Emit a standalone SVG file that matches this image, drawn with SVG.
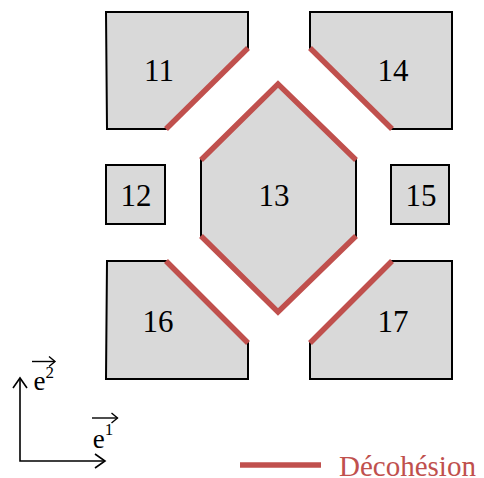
<svg xmlns="http://www.w3.org/2000/svg" width="484" height="478" viewBox="0 0 484 478">
<style>
.cell{fill:#d9d9d9;stroke:#000;stroke-width:2;stroke-linejoin:miter}
.dec{stroke:#c0504d;stroke-width:5.5;fill:none;stroke-linecap:butt}
.lbl{font-family:'Liberation Serif',serif;font-size:31px;fill:#000;text-anchor:middle}
.ax{stroke:#000;stroke-width:1.6;fill:none}
.vec{stroke:#000;stroke-width:1.4;fill:none}
.axl{font-family:'Liberation Serif',serif;fill:#000;font-size:27px}
.sup{font-size:17px}
</style>
<rect width="484" height="478" fill="#fff"/>
<g id="node11">
<polygon class="cell" points="106,12 248,12 248,48 166,129 107,129"/>
<line class="dec" x1="248" y1="48" x2="166" y2="129"/>
<text class="lbl" x="159" y="81">11</text>
</g>
<g id="node14">
<polygon class="cell" points="310,12 452,12 452,129 392,129 310,48"/>
<line class="dec" x1="310" y1="48" x2="392" y2="129"/>
<text class="lbl" x="393" y="81">14</text>
</g>
<g id="node12">
<rect class="cell" x="106" y="165" width="59" height="59"/>
<text class="lbl" x="136" y="206">12</text>
</g>
<g id="node15">
<rect class="cell" x="391" y="165" width="58" height="59"/>
<text class="lbl" x="421" y="206">15</text>
</g>
<g id="node13">
<polygon class="cell" points="278,84 201,160 201,236 278,312 356,236 356,160"/>
<polyline class="dec" points="201,160 278,84 356,160"/>
<polyline class="dec" points="201,236 278,312 356,236"/>
<text class="lbl" x="274" y="206">13</text>
</g>
<g id="node16">
<polygon class="cell" points="107,261 166,261 248,343 248,379 106,379"/>
<line class="dec" x1="166" y1="261" x2="248" y2="343"/>
<text class="lbl" x="158" y="332">16</text>
</g>
<g id="node17">
<polygon class="cell" points="392,261 452,261 452,379 310,379 310,343"/>
<line class="dec" x1="392" y1="261" x2="310" y2="343"/>
<text class="lbl" x="393" y="332">17</text>
</g>
<g id="connectors">
<polyline class="ax" points="20,378 20,461 105,461"/>
<polyline class="ax" points="13,388 20,378 27,388"/>
<polyline class="ax" points="95,454 105,461 95,468"/>
<line class="vec" x1="32" y1="361.5" x2="55" y2="361.5"/>
<polyline class="vec" points="49,356.5 55,361.5 49,366.5"/>
<line class="vec" x1="92" y1="418" x2="117.5" y2="418"/>
<polyline class="vec" points="111.5,413 117.5,418 111.5,423"/>
</g>
<g id="axis-labels">
<text class="axl" x="33.5" y="389.5">e<tspan class="sup" dy="-11.5">2</tspan></text>
<text class="axl" x="92.7" y="447.5">e<tspan class="sup" dy="-12.5">1</tspan></text>
</g>
<g id="legend">
<line class="dec" x1="240" y1="465" x2="321" y2="465"/>
<text x="339" y="476" style="font-family:'Liberation Serif',serif" font-size="29" fill="#c0504d">Décohésion</text>
</g>
</svg>
